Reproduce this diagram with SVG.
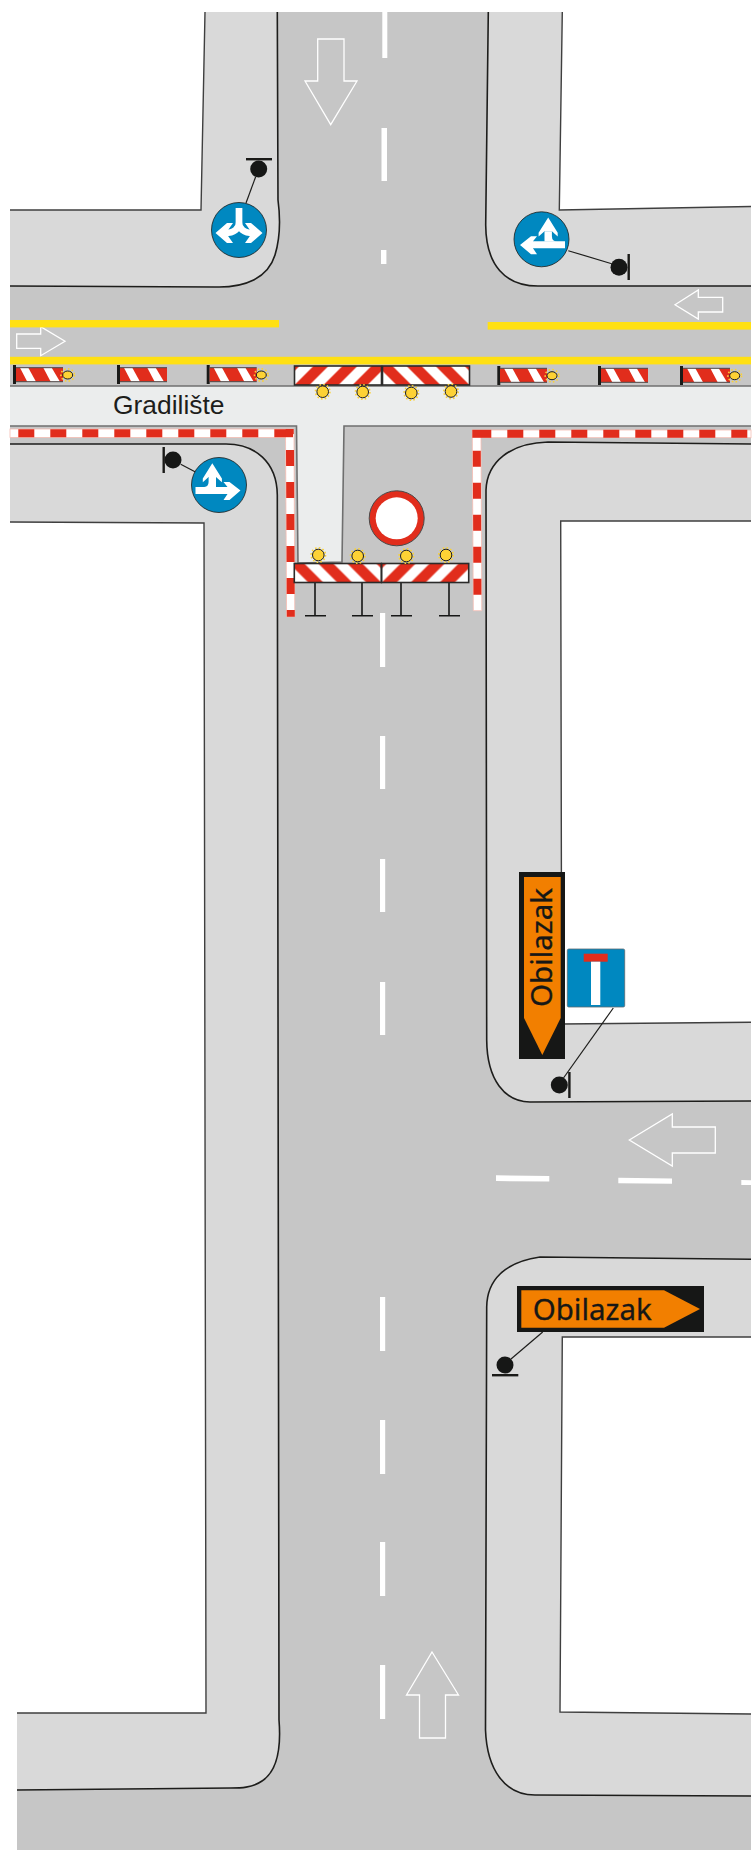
<svg xmlns="http://www.w3.org/2000/svg" xmlns:xlink="http://www.w3.org/1999/xlink" width="755" height="1850" viewBox="0 0 755 1850">
<style>
.walk{fill:#d9d9d9;stroke:none}
.block{fill:#fff;stroke:none}
.edge{fill:none;stroke:#1d1d1b;stroke-width:1.6}
.inner{fill:none;stroke:#3f3f3f;stroke-width:1.4}
.bandline{fill:none;stroke:#6f6f6f;stroke-width:1.6}
.mark{fill:#fff;stroke:none}
.arrow{fill:none;stroke:#fff;stroke-width:1.3}
.yellow{fill:#ffe013}
.tw{fill:#fff;stroke:#f6bdb3;stroke-width:.8}
.tr{fill:none;stroke:#e12d1c;stroke-width:8;stroke-dasharray:16 16}
.trs{fill:none;stroke:#e12d1c;stroke-width:8}
.post{fill:#1a1a18}
.pole{stroke:#1d1d1b;stroke-width:1.2;fill:none}
.dot{fill:#161716}
.leg{stroke:#161716;stroke-width:1.6;fill:none}
.lamp{fill:#fdd235;stroke:#1d1d1b;stroke-width:1}
.halo{fill:none;stroke:#fbd235;stroke-width:1.6;stroke-dasharray:1.6 2.2}
.blue{fill:#0088c0;stroke:#1d1d1b;stroke-width:.8}
.lbl{font-family:"Liberation Sans",Arial,sans-serif;font-size:26.4px;fill:#1d1d1b}
.obi{font-family:"Noto Sans",Lato,sans-serif;font-size:29.5px;fill:#161716;stroke:#161716;stroke-width:.3}
.black{fill:#161716}
.orange{fill:#f27f00}
.big{stroke:#2b2b2a;stroke-width:1.6}
</style>
<defs>
<pattern id="bigStripe" patternUnits="userSpaceOnUse" width="29" height="19">
<rect width="29" height="19" fill="#fff"/>
<polygon points="0,19 15,19 34,0 19,0" fill="#e12d1c"/>
<polygon points="-29,19 -14,19 5,0 -10,0" fill="#e12d1c"/>
</pattern>
<g id="bigBar"><rect class="big" width="87" height="19" fill="url(#bigStripe)"/></g>
<g id="smallBar">
<rect width="47" height="14" fill="#e12d1c"/>
<polygon points="4,0 12.3,0 20,14 11.3,14" fill="#fff"/>
<polygon points="27.3,0 35.7,0 44,14 34.7,14" fill="#fff"/>
<path d="M0,0H47M0,14H47" stroke="#4a4a4a" stroke-width="1" fill="none"/>
</g>
<g id="smallLamp">
<ellipse class="halo" rx="6.8" ry="6.2"/>
<ellipse class="lamp" rx="5" ry="4"/>
</g>
<g id="bigLamp">
<circle class="halo" r="7.2"/>
<circle class="lamp" r="5.8"/>
</g>
<g id="splitGlyph">
<polygon class="mark" points="-12,2 23.5,2 23.5,9 -12,9"/>
<path class="mark" d="M3,-8 H10.4 V-3 Q10.4,2.2 16,2.2 H3 Z"/>
<polygon class="mark" points="6.7,-21.8 16.2,-6.5 16.2,-2.8 10.4,-8 3,-8 -2.9,-2.8 -2.9,-6.5"/>
<polygon class="mark" points="-21.5,5.6 -10.5,-3 -4.5,-3 -8.5,2 -8.5,9 -4.5,15 -10.5,15"/>
</g>
</defs>

<g id="road">
<path d="M10,12H751V1850H17V1713H10Z" fill="#c6c6c6"/>
</g>

<g id="sidewalks">
<path class="walk" d="M10,12H277.3L278,200C280,215 281,235 275,255C268,278 245,288 215,287L10,286Z"/>
<path class="block" d="M0,0H205L201,210H0Z"/>
<path class="edge" d="M277.3,12L278,200C280,215 281,235 275,255C268,278 245,288 215,287L10,286"/>
<path class="inner" d="M205,12L201,210H10"/>

<path class="walk" d="M488.3,12L485.7,225C486,265 505,286 538,286H751V12Z"/>
<path class="block" d="M562.3,0V12L559.3,210L751,206.5V0Z"/>
<path class="edge" d="M488.3,12L485.7,225C486,265 505,286 538,286H751"/>
<path class="inner" d="M562.3,12L559.3,210L751,206.5"/>

<path class="walk" d="M10,444H226C255,444 277,462 277.3,495L279,1720C281,1745 279,1770 262,1781C252,1788 240,1788 231,1788L17,1790V1713H10Z"/>
<path class="block" d="M0,522L204,523L206,1713H0Z"/>
<path class="edge" d="M10,444H226C255,444 277,462 277.3,495L279,1720C281,1745 279,1770 262,1781C252,1788 240,1788 231,1788L17,1790"/>
<path class="inner" d="M10,522L204,523L206,1713H17"/>

<path class="walk" d="M751,444L548,442C510,443 487,462 486,490L486.7,1040C487,1080 505,1102 530,1102L751,1101Z"/>
<path class="block" d="M560.7,521H751V1022.3L561.7,1024Z"/>
<path class="edge" d="M751,444L548,442C510,443 487,462 486,490L486.7,1040C487,1080 505,1102 530,1102L751,1101"/>
<path class="inner" d="M751,521H560.7L561.7,1024L751,1022.3"/>

<path class="walk" d="M751,1259.3L540,1257C505,1262 487,1280 486.7,1307L485.5,1730C487,1770 505,1795 535,1795L751,1796Z"/>
<path class="block" d="M562.3,1337H751V1714L560,1712Z"/>
<path class="edge" d="M751,1259.3L540,1257C505,1262 487,1280 486.7,1307L485.5,1730C487,1770 505,1795 535,1795L751,1796"/>
<path class="inner" d="M751,1337H562.3L560,1712L751,1714"/>
</g>

<g id="markings">
<rect class="mark" x="382.3" y="12" width="5" height="46"/>
<rect class="mark" x="381.5" y="128" width="5.5" height="53"/>
<rect class="mark" x="381" y="250" width="5.4" height="14"/>
<rect class="mark" x="380" y="613" width="5.2" height="54"/>
<rect class="mark" x="380" y="736" width="5.2" height="53"/>
<rect class="mark" x="380" y="859" width="5.2" height="53"/>
<rect class="mark" x="380" y="982" width="5.2" height="53"/>
<rect class="mark" x="380" y="1297" width="5.2" height="54"/>
<rect class="mark" x="380" y="1420" width="5.2" height="54"/>
<rect class="mark" x="380" y="1542" width="5.2" height="54"/>
<rect class="mark" x="380" y="1665" width="5.2" height="54"/>
<polygon class="mark" points="496,1175.3 549.3,1176 549.3,1181.6 496,1181"/>
<polygon class="mark" points="618.3,1177.7 672,1178.4 672,1183.8 618.3,1183.3"/>
<polygon class="mark" points="741.3,1180 751,1180.2 751,1185 741.3,1185"/>
<polygon class="arrow" points="317.7,39 344,39 344,81 357,81 330.7,124.7 305,81 317.7,81"/>
<polygon class="arrow" points="675,304.7 698.3,290 698.3,297.3 722.7,297.3 722.7,312 698.3,312 698.3,319"/>
<polygon class="arrow" points="16.7,334 40.7,334 40.7,326.7 65,341.3 40.7,355.7 40.7,348.3 16.7,348.3"/>
<polygon class="arrow" points="629.3,1140 672.3,1114 672.3,1127 715.3,1127 715.3,1153 672.3,1153 672.3,1166"/>
<polygon class="arrow" points="432,1652 458.5,1695 445.5,1695 445.5,1738 419.5,1738 419.5,1695 406.5,1695"/>
<rect class="yellow" x="10" y="320" width="269" height="7.4"/>
<rect class="yellow" x="487.7" y="322" width="263.3" height="7.6"/>
<rect class="yellow" x="10" y="356.8" width="741" height="7.6"/>
</g>

<g id="work-zone">
<path d="M10,386H751V426H344L342,562L298,563L296.5,426H10Z" fill="#ebeded"/>
<path class="bandline" d="M10,386H751"/>
<path class="bandline" d="M10,426H296.5L298,563L342,562L344,426H751"/>
<text class="lbl" x="113" y="414.3">Gradilište</text>
</g>

<g id="tape-left">
<rect class="tw" x="10" y="429" width="283" height="8.4"/>
<path class="tw" d="M285.5,434H294L294.8,616.7H286.6Z"/>
<path class="tr" d="M18.3,433.2H274"/>
<path class="trs" d="M274.3,433.2H293"/>
<path class="trs" d="M289.7,429V434"/>
<path class="tr" d="M290,450L290.8,616.7"/>
</g>
<g id="tape-right">
<rect class="tw" x="472.3" y="430" width="278.7" height="7.7"/>
<path class="tw" d="M472.3,435H481L481.8,610.7H473.3Z"/>
<path class="trs" d="M472.3,433.8H491.3"/>
<path class="tr" d="M507.3,433.8H751"/>
<path class="tr" d="M476.8,450.7L477.5,610.7"/>
</g>

<g id="barrier-small-1"><rect class="post" x="13" y="365" width="3" height="19"/><use href="#smallBar" x="16" y="367.7"/><use href="#smallLamp" x="67.7" y="375"/></g>
<g id="barrier-small-2"><rect class="post" x="117" y="365" width="3" height="19"/><use href="#smallBar" x="120" y="367.7"/></g>
<g id="barrier-small-3"><rect class="post" x="206.7" y="365" width="3" height="19"/><use href="#smallBar" x="209.7" y="367.7"/><use href="#smallLamp" x="261.3" y="375"/></g>
<g id="barrier-small-4"><rect class="post" x="497.3" y="366" width="3" height="19"/><use href="#smallBar" x="500" y="368.3"/><use href="#smallLamp" x="552" y="375.7"/></g>
<g id="barrier-small-5"><rect class="post" x="598" y="366" width="3" height="19"/><use href="#smallBar" x="601" y="368.3"/></g>
<g id="barrier-small-6"><rect class="post" x="680" y="366" width="3" height="19"/><use href="#smallBar" x="683" y="368.3"/><use href="#smallLamp" x="734.7" y="375.7"/></g>

<g id="barrier-top">
<g transform="translate(294.5,366)"><use href="#bigBar"/></g>
<g transform="translate(469.5,366) scale(-1,1)"><use href="#bigBar"/></g>
<use href="#bigLamp" x="322.7" y="391.7"/>
<use href="#bigLamp" x="362.7" y="392"/>
<use href="#bigLamp" x="411.3" y="393"/>
<use href="#bigLamp" x="451" y="391.5"/>
</g>

<g id="barrier-bottom">
<path class="leg" d="M315,582V615.7M305,615.7H326M362,582V615.7M352,615.7H373M401,582V615.7M391,615.7H412M449,582V615.7M439,615.7H460"/>
<g transform="translate(381.3,563.5) scale(-1,1)"><use href="#bigBar"/></g>
<g transform="translate(381.7,563.5)"><use href="#bigBar"/></g>
<use href="#bigLamp" x="318.3" y="555"/>
<use href="#bigLamp" x="357.7" y="556"/>
<use href="#bigLamp" x="406.3" y="556"/>
<use href="#bigLamp" x="446" y="555"/>
</g>

<g id="connectors">
<path class="pole" d="M255.7,176.7L246,203"/>
<path class="pole" d="M568.3,250.7L611.7,263.7"/>
<path class="pole" d="M180.7,464.3L195,471.7"/>
<path class="pole" d="M613.3,1008L563.5,1078"/>
<path class="pole" d="M542.7,1332L511,1359"/>
</g>

<g id="sign-junction-top-left">
<rect class="post" x="246" y="158" width="26" height="2.4"/>
<circle class="dot" cx="258.7" cy="169" r="8.5"/>
<circle class="blue" cx="239" cy="230" r="27.5"/>
<g transform="translate(239,230)">
<path d="M0,-22V-8C0,-1 -5,3 -14,3" fill="none" stroke="#fff" stroke-width="6.4"/>
<path d="M0,-22V-8C0,-1 5,3 14,3" fill="none" stroke="#fff" stroke-width="6.4"/>
<polygon class="mark" points="-23.5,3 -12,-7 -6,-7 -13,3 -6,13 -12,13"/>
<polygon class="mark" points="23.5,3 12,-7 6,-7 13,3 6,13 12,13"/>
</g>
</g>

<g id="sign-junction-top-right">
<rect class="post" x="627.5" y="254" width="2.4" height="26"/>
<circle class="dot" cx="619" cy="267.3" r="8.5"/>
<circle class="blue" cx="541.5" cy="239.3" r="27.5"/>
<use href="#splitGlyph" x="541.5" y="239.3"/>
</g>

<g id="sign-junction-left">
<rect class="post" x="162.5" y="447" width="2.4" height="26"/>
<circle class="dot" cx="173" cy="460" r="8.5"/>
<circle class="blue" cx="219" cy="485" r="27.5"/>
<g transform="translate(219,485) scale(-1,1)"><use href="#splitGlyph"/></g>
</g>

<g id="sign-no-entry">
<circle cx="396.7" cy="518.3" r="27.5" fill="#e12d1c" stroke="#4a4a4a" stroke-width="1"/>
<circle cx="396.7" cy="518.3" r="21" fill="#fff"/>
</g>

<g id="sign-detour-down">
<rect class="black" x="519" y="872" width="46" height="187"/>
<polygon class="orange" points="524,877 560.7,877 560.7,1018 542.3,1055 524,1018"/>
<text class="obi" transform="translate(551.7,1007) rotate(-90)" textLength="119">Obilazak</text>
</g>

<g id="sign-dead-end">
<rect x="567.3" y="949" width="57.4" height="58" rx="1.5" fill="#0088c0" stroke="#5a6a72" stroke-width=".8"/>
<rect x="583.7" y="953.7" width="24" height="8" fill="#e12d1c"/>
<rect x="591" y="961.7" width="9.3" height="43.3" fill="#fff"/>
<circle class="dot" cx="559.3" cy="1085" r="8.5"/>
<rect class="post" x="568.2" y="1072" width="2.4" height="26"/>
</g>

<g id="sign-detour-right">
<rect class="black" x="517" y="1286" width="187" height="46"/>
<polygon class="orange" points="521.3,1290.3 664,1290.3 700,1309 664,1327.7 521.3,1327.7"/>
<text class="obi" x="532.7" y="1320" textLength="119">Obilazak</text>
<circle class="dot" cx="505" cy="1365" r="8.5"/>
<rect class="post" x="492" y="1374" width="26.3" height="2.4"/>
</g>
</svg>
